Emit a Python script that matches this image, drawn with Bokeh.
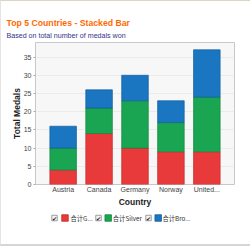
from bokeh.plotting import figure
from bokeh.models import FactorRange, Range1d, FixedTicker, Title
from bokeh.core.properties import value
from bokeh.layouts import column
from bokeh.embed import file_html
from bokeh.resources import INLINE

countries = ["Austria", "Canada", "Germany", "Norway", "United..."]
gold = [4, 14, 10, 9, 9]
silver = [6, 7, 13, 8, 15]
bronze = [6, 5, 7, 6, 13]
series = ["gold", "silver", "bronze"]
legend_labels = ["合计G...", "合计Silver", "合计Bro..."]
colors = ["#e83a3a", "#1aa552", "#1a76c0"]
edge_colors = ["#c42a2a", "#13883f", "#135f9e"]
y_ticks = [0, 5, 10, 15, 20, 25, 30, 35]

# layout constants (pixels); B = css border width of the outer panel
B = 1
W = 249
H_MAIN, H_LEG = 209, 34
FL, FR, FT, FB = 34, 233, 41, 183
Y0, Y1 = 0, 39
PAD = 0.27

p = figure(width=W, height=H_MAIN, output_backend="svg", toolbar_location=None,
           x_range=FactorRange(*countries, range_padding=PAD, range_padding_units="absolute"),
           y_range=Range1d(Y0, Y1),
           min_border_left=FL, min_border_right=W - FR,
           min_border_top=FT, min_border_bottom=H_MAIN - FB)

data = dict(country=countries, gold=gold, silver=silver, bronze=bronze)
p.vbar_stack(series, x="country", width=0.74, source=data,
             fill_color=colors, line_color=edge_colors, line_width=0.7)

# titles (p.title is outermost, added subtitle sits next to the frame)
p.title.text = "Top 5 Countries - Stacked Bar"
p.title.align = "left"
p.title.offset = 5 - FL
p.title.standoff = -1
p.title.text_font = "Liberation Sans"
p.title.text_font_size = "8.7px"
p.title.text_font_style = "bold"
p.title.text_color = "#ff6a00"
p.add_layout(Title(text="Based on total number of medals won", align="left",
                   offset=5 - FL, standoff=5, text_font="Liberation Sans",
                   text_font_size="7.1px", text_font_style="normal",
                   text_color="#33338a"), "above")

p.background_fill_color = "#f7f7f7"
p.border_fill_color = "white"
p.outline_line_color = "#c8c8c8"
p.xgrid.grid_line_color = None
p.ygrid.grid_line_color = "#dedede"
p.ygrid.grid_line_dash = "1 1"
p.yaxis.ticker = FixedTicker(ticks=y_ticks)

for ax in (p.xaxis[0], p.yaxis[0]):
    ax.axis_line_color = None
    ax.major_tick_line_color = "#aaaaaa"
    ax.major_tick_in = 0
    ax.major_tick_out = 2
    ax.minor_tick_line_color = None
    ax.major_label_text_font = "Liberation Sans"
    ax.major_label_text_font_size = "7px"
    ax.major_label_text_color = "#444444"
    ax.axis_label_text_font = "Liberation Sans"
    ax.axis_label_text_font_size = "8.5px"
    ax.axis_label_text_font_style = "bold"
    ax.axis_label_text_color = "#222222"
p.xaxis.major_tick_line_color = None
p.xaxis.major_tick_out = 0
p.xaxis.major_label_standoff = 1
p.xaxis.axis_label = "Country"
p.xaxis.axis_label_standoff = 1
p.yaxis.major_label_standoff = 2
p.yaxis.axis_label = "Total Medals"
p.yaxis.axis_label_standoff = -1

# legend strip below the chart; its frame is aligned with the chart frame,
# so the x range is expressed in pixels of that frame (y downwards)
leg = figure(width=W, height=H_LEG, output_backend="svg", toolbar_location=None,
             x_range=Range1d(FL, FR), y_range=Range1d(H_LEG, 0),
             x_axis_location=None, y_axis_location=None,
             min_border=0, outline_line_color=None, background_fill_color="white",
             border_fill_color="white")
leg.grid.visible = False

row_y = 7.5
box_x = [53, 97, 147]
sq_x = [63.5, 106.7, 156.7]
txt_x = [69, 111.3, 161]
leg.scatter(x=box_x, y=[row_y] * 3, marker="square", size=5.5,
            fill_color="#f4f4f4", line_color="#888888", line_width=0.8)
leg.text(x=box_x, y=[row_y] * 3, text=["✔"] * 3, text_font=value("DejaVu Sans"),
         text_font_size="6px", text_color="#222222", text_align="center",
         text_baseline="middle")
leg.scatter(x=sq_x, y=[row_y] * 3, marker="square", size=6.5,
            fill_color=colors, line_color=edge_colors, line_width=0.8)
leg.text(x=txt_x, y=[row_y] * 3, text=legend_labels, text_font=value("Noto Sans CJK SC"),
         text_font_size="6.3px", text_color="#333333", text_align="left",
         text_baseline="middle")

layout = column(p, leg, spacing=0,
                styles={"border-top": f"{B}px solid #dcd3c3",
                        "border-left": f"{B}px solid #e4e4e4",
                        "border-bottom": f"{B + 1}px solid #d6d6d6"})
open("out.html", "w").write(file_html(layout, INLINE))
